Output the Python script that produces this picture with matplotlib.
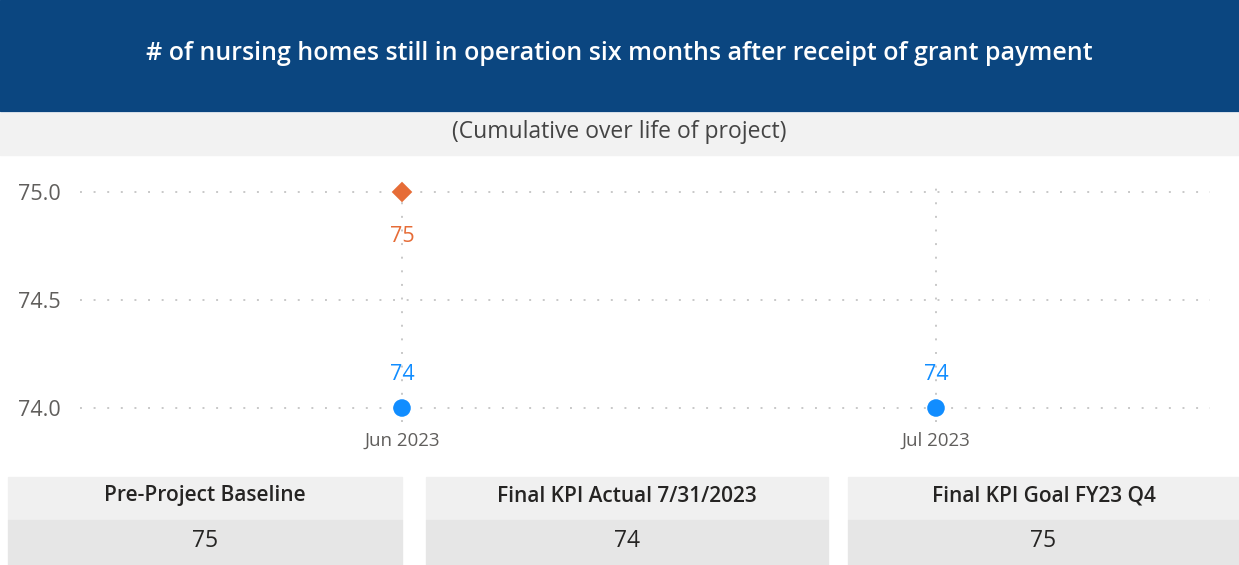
import matplotlib
matplotlib.use("Agg")
import matplotlib.pyplot as plt
from matplotlib.patches import Rectangle

plt.rcParams['font.family'] = ['Open Sans', 'DejaVu Sans']

title = "# of nursing homes still in operation six months after receipt of grant payment"
subtitle = "(Cumulative over life of project)"
months = ["Jun 2023", "Jul 2023"]
actual = [74, 74]
baseline_month = ["Jun 2023"]
baseline = [75]
yticks = [74.0, 74.5, 75.0]
card_titles = ["Pre-Project Baseline", "Final KPI Actual 7/31/2023", "Final KPI Goal FY23 Q4"]
card_values = ["75", "74", "75"]

W, H = 1239, 565
fig = plt.figure(figsize=(W/100, H/100), dpi=100)
fig.patch.set_facecolor("white")

def rect(x0, y0, x1, y1, color):
    fig.patches.append(Rectangle((x0/W, 1-y1/H), (x1-x0)/W, (y1-y0)/H,
                                 transform=fig.transFigure, color=color, zorder=0))

# header
rect(0, 0, W, 111, "#0B4680")
fig.text(0.5, 1-54/H, title, color="white", ha="center", va="center",
         fontsize=18, fontweight="semibold")
rect(0, 113, W, 155, "#F2F2F2")
fig.text(0.5, 1-132/H, subtitle, color="#444444", ha="center", va="center", fontsize=16.5)

# axes
ax_top, ax_bot = 180, 422
ax = fig.add_axes([80/W, 1-ax_bot/H, (1210-80)/W, (ax_bot-ax_top)/H])
ppu = (408-192)/1.0
ax.set_ylim(74 - (ax_bot-408)/ppu, 75 + (192-ax_top)/ppu)
xs = list(range(len(months)))
span = 936-402
ax.set_xlim(-(402-80)/span, 1 + (1210-936)/span)
for s in ax.spines.values():
    s.set_visible(False)
ax.set_yticks(yticks)
ax.set_yticklabels([f"{v:.1f}" for v in yticks])
ax.set_xticks(xs)
ax.set_xticklabels(months)
ax.tick_params(axis='both', length=0, colors="#605E5C")
ax.tick_params(axis='y', labelsize=15.5, pad=14)
ax.tick_params(axis='x', labelsize=13.5, pad=7)
ax.grid(True, linestyle=(0, (1, 6)), color="#C8C8C8", linewidth=1.4)
ax.set_axisbelow(True)

ax.scatter(xs, actual, s=160, color="#118DFF", zorder=3, edgecolors="none")
bx = [months.index(m) for m in baseline_month]
ax.scatter(bx, baseline, s=110, marker="D", color="#E66C37", zorder=3, edgecolors="none")
for x, v in zip(xs, actual):
    ax.annotate(str(v), (x, v), xytext=(0, 24), textcoords="offset points",
                ha="center", va="center", color="#118DFF", fontsize=15.5)
for x, v in zip(bx, baseline):
    ax.annotate(str(v), (x, v), xytext=(0, -32), textcoords="offset points",
                ha="center", va="center", color="#E66C37", fontsize=15.5)

# cards
cards = [(8, 402), (426, 828), (848, 1239)]
for (x0, x1), t, v in zip(cards, card_titles, card_values):
    rect(x0, 477, x1, 520, "#F0F0F0")
    rect(x0, 520, x1, H, "#E6E6E6")
    cx = (x0+x1)/2/W
    fig.text(cx, 1-496/H, t, ha="center", va="center", fontsize=15,
             color="#252423", fontweight="semibold")
    fig.text(cx, 1-541/H, v, ha="center", va="center", fontsize=16.5, color="#252423")

fig.savefig("out.png", dpi=100)
